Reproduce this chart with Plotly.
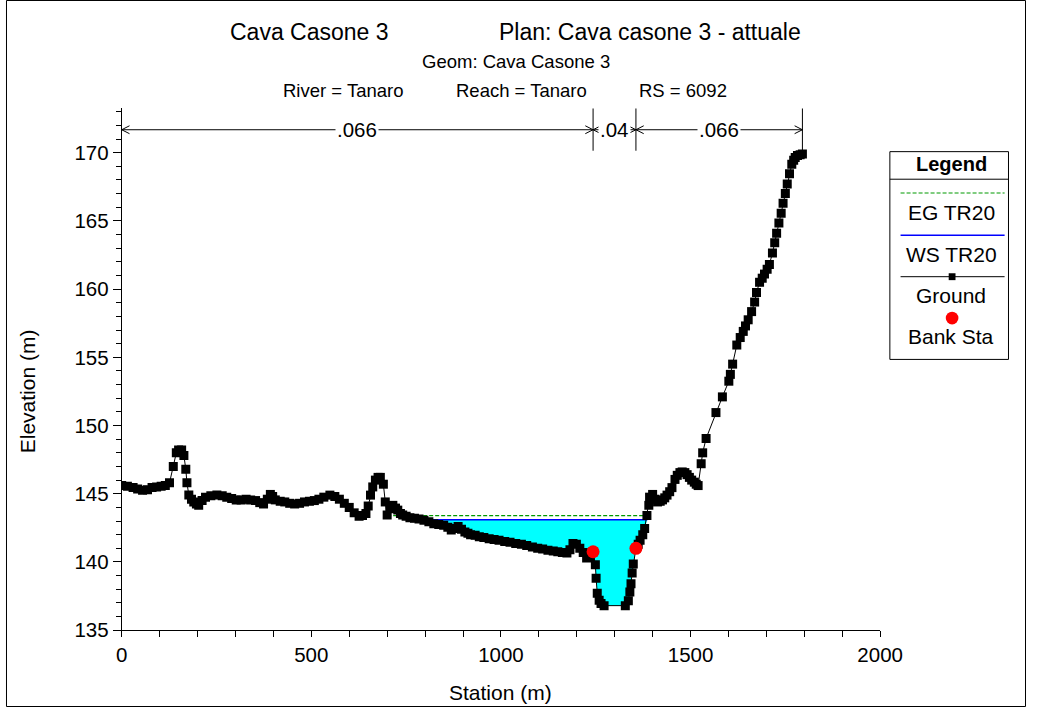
import numpy as np
import plotly.graph_objects as go

W, H = 1049, 718

# Cross-section ground points: station (m) and elevation (m)
station = [
    0, 15, 30, 42, 55, 68, 80, 92, 104, 115, 126, 136, 144, 150, 158, 164, 169, 172, 177, 184,
    190, 197, 203, 212, 221, 235, 251, 265, 277, 290, 302, 315, 328, 340, 353, 364, 374, 384, 392, 398,
    405, 418, 430, 443, 456, 469, 482, 495, 508, 520, 533, 549, 562, 574, 587, 600, 613, 626, 635, 644,
    650, 656, 662, 669, 676, 682, 690, 695, 700, 707, 715, 722, 728, 735, 741, 750, 760, 772, 784, 797,
    810, 823, 836, 849, 860, 869, 878, 887, 896, 905, 913, 920, 932, 943, 955, 969, 982, 995, 1010, 1024,
    1039, 1054, 1068, 1083, 1097, 1110, 1124, 1138, 1150, 1162, 1174, 1182, 1190, 1199, 1208, 1217, 1226, 1235, 1243, 1249,
    1251, 1254, 1259, 1264, 1272, 1328, 1336, 1340, 1343, 1346, 1349, 1356, 1362, 1367, 1374, 1379, 1385, 1390, 1392, 1400,
    1406, 1413, 1420, 1426, 1432, 1438, 1445, 1451, 1459, 1465, 1472, 1478, 1485, 1491, 1497, 1503, 1510, 1515, 1520, 1528,
    1532, 1541, 1567, 1584, 1601, 1605, 1611, 1622, 1631, 1639, 1645, 1652, 1661, 1669, 1674, 1682, 1689, 1695, 1702, 1708,
    1716, 1722, 1727, 1733, 1739, 1744, 1750, 1755, 1761, 1767, 1772, 1776, 1782, 1789, 1795,
]
elevation = [
    145.6, 145.55, 145.45, 145.35, 145.25, 145.3, 145.45, 145.5, 145.55, 145.6, 145.8, 147.0, 148.0, 148.2, 148.2, 147.8, 146.8, 145.8, 144.9, 144.6,
    144.4, 144.25, 144.15, 144.5, 144.75, 144.85, 144.9, 144.85, 144.75, 144.65, 144.55, 144.55, 144.6, 144.55, 144.5, 144.35, 144.25, 144.6, 144.95, 144.8,
    144.55, 144.45, 144.4, 144.3, 144.25, 144.3, 144.4, 144.45, 144.5, 144.6, 144.75, 144.9, 144.8, 144.6, 144.3, 144.0, 143.6, 143.35, 143.4, 143.55,
    144.1, 144.9, 145.5, 146.0, 146.2, 146.2, 145.7, 144.4, 143.45, 143.9, 144.15, 143.95, 143.8, 143.55, 143.45, 143.35, 143.25, 143.2, 143.15, 143.05,
    142.95, 142.8, 142.75, 142.7, 142.55, 142.35, 142.45, 142.6, 142.4, 142.2, 142.1, 142.0, 141.95, 141.85, 141.8, 141.7, 141.65, 141.6, 141.5, 141.45,
    141.35, 141.3, 141.2, 141.1, 141.0, 140.95, 140.85, 140.8, 140.75, 140.7, 140.65, 140.9, 141.35, 141.3, 141.0, 140.7, 140.3, 140.4, 140.75, 139.8,
    138.8, 137.7, 137.2, 136.95, 136.8, 136.8, 137.15, 137.8, 138.4, 139.2, 139.85, 141.0, 141.3, 141.6, 142.0, 142.45, 143.4, 144.15, 144.75, 144.95,
    144.6, 144.4, 144.45, 144.55, 144.7, 144.9, 145.15, 145.45, 146.05, 146.35, 146.55, 146.6, 146.55, 146.4, 146.2, 146.0, 145.85, 145.7, 145.6, 147.2,
    148.0, 149.05, 150.95, 152.1, 153.25, 153.75, 154.5, 155.9, 156.45, 156.9, 157.3, 157.75, 158.35, 159.05, 159.75, 160.5, 160.8, 161.1, 161.45, 161.8,
    162.65, 163.4, 164.1, 164.85, 165.55, 166.3, 167.0, 167.7, 168.45, 169.15, 169.45, 169.65, 169.8, 169.85, 169.9,
]

# Bank stations and Manning's n breaks
bank_sta = [1243, 1356]
n_breaks = [0, 1243, 1356, 1795]
n_values = [0.066, 0.04, 0.066]

# Water surface and energy grade for profile TR20
ws_elev = 143.1
eg_elev = 143.4
ws_extent = [755, 1386]
eg_extent = [700, 1388]

x_range = [0, 2000]
y_range = [135, 173.25]
x_tick_vals = [0, 500, 1000, 1500, 2000]
y_tick_vals = [135, 140, 145, 150, 155, 160, 165, 170]

FONT = "Liberation Sans, Arial, sans-serif"

# plot box in pixels (figure uses zero margins, so paper == whole figure)
PX_L, PX_R, PX_T, PX_B = 119, 899, 110, 640


def px(x):
    return x / W


def py(y):
    return 1 - y / H


sta = np.array(station, dtype=float)
elev = np.array(elevation, dtype=float)

fig = go.Figure()

# water fill between WS and ground
wet = (sta > ws_extent[0]) & (sta < ws_extent[1])
fill_x = [ws_extent[0]] + list(sta[wet]) + [ws_extent[1], ws_extent[0]]
fill_y = [ws_elev] + list(np.minimum(elev[wet], ws_elev)) + [ws_elev, ws_elev]
fig.add_trace(go.Scatter(x=fill_x, y=fill_y, fill="toself", fillcolor="#00FFFF",
                         line=dict(width=0), mode="lines", hoverinfo="skip", showlegend=False))

# energy grade line
fig.add_trace(go.Scatter(x=eg_extent, y=[eg_elev, eg_elev], mode="lines",
                         line=dict(color="#009900", width=1.2, dash="4px,2px"),
                         name="EG TR20", showlegend=False))
# water surface
fig.add_trace(go.Scatter(x=ws_extent, y=[ws_elev, ws_elev], mode="lines",
                         line=dict(color="#0000FF", width=1.5),
                         name="WS TR20", showlegend=False))
# ground
fig.add_trace(go.Scatter(x=station, y=elevation, mode="lines+markers",
                         line=dict(color="black", width=1),
                         marker=dict(symbol="square", size=9, color="black"),
                         name="Ground", showlegend=False))
# bank stations
bank_elev = [elevation[station.index(s)] for s in bank_sta]
fig.add_trace(go.Scatter(x=bank_sta, y=bank_elev, mode="markers",
                         marker=dict(symbol="circle", size=13, color="#FF0000"),
                         name="Bank Sta", showlegend=False))

shapes = []
annotations = []

# Manning's n ranges with arrow markers
y_top = y_range[1]
y_arrow = 171.68
ppm_x = (PX_R - PX_L) / (x_range[1] - x_range[0])
ppm_y = (PX_B - PX_T) / (y_range[1] - y_range[0])
ah_len = 8 / ppm_x
ah_half = 4 / ppm_y
for i, n in enumerate(n_values):
    a, b = n_breaks[i], n_breaks[i + 1]
    shapes.append(dict(type="line", xref="x", yref="y", x0=a, x1=b, y0=y_arrow, y1=y_arrow,
                       line=dict(color="black", width=1)))
    for tip, d in ((a, 1), (b, -1)):
        for s in (1, -1):
            shapes.append(dict(type="line", xref="x", yref="y", x0=tip, y0=y_arrow,
                               x1=tip + d * ah_len, y1=y_arrow + s * ah_half,
                               line=dict(color="black", width=1)))
    label = ("%g" % n).lstrip("0")
    annotations.append(dict(x=(a + b) / 2, y=y_arrow, xref="x", yref="y", text=label,
                            showarrow=False, bgcolor="white", borderpad=1,
                            font=dict(family=FONT, size=20.5, color="black")))

for s in n_breaks[1:-1]:
    shapes.append(dict(type="line", xref="x", yref="y", x0=s, x1=s, y0=y_top, y1=170.14,
                       line=dict(color="black", width=1)))
shapes.append(dict(type="line", xref="x", yref="y", x0=n_breaks[-1], x1=n_breaks[-1],
                   y0=y_top, y1=elevation[-1], line=dict(color="black", width=1)))

# outer frame
shapes.append(dict(type="rect", xref="paper", yref="paper", x0=px(0.5), x1=px(W - 0.5),
                   y0=py(0.5), y1=py(H - 0.5), line=dict(color="black", width=1)))

# legend box
LB_L, LB_R, LB_T, LB_B = 909, 1031, 154, 365
shapes.append(dict(type="rect", xref="paper", yref="paper", x0=px(LB_L), x1=px(LB_R),
                   y0=py(LB_T), y1=py(LB_B), line=dict(color="black", width=1), fillcolor="white"))
shapes.append(dict(type="line", xref="paper", yref="paper", x0=px(LB_L), x1=px(LB_R),
                   y0=py(182), y1=py(182), line=dict(color="black", width=1)))
SYM_L, SYM_R, SYM_C = 920, 1027, 973
shapes.append(dict(type="line", xref="paper", yref="paper", x0=px(SYM_L), x1=px(SYM_R),
                   y0=py(196), y1=py(196), line=dict(color="#009900", width=1.2, dash="4px,2px")))
shapes.append(dict(type="line", xref="paper", yref="paper", x0=px(SYM_L), x1=px(SYM_R),
                   y0=py(239), y1=py(239), line=dict(color="#0000FF", width=1.5)))
shapes.append(dict(type="line", xref="paper", yref="paper", x0=px(SYM_L), x1=px(SYM_R),
                   y0=py(281), y1=py(281), line=dict(color="black", width=1)))
shapes.append(dict(type="rect", xref="paper", yref="paper", x0=px(SYM_C - 3.5), x1=px(SYM_C + 3.5),
                   y0=py(281 - 3.5), y1=py(281 + 3.5), line=dict(width=0), fillcolor="black"))
shapes.append(dict(type="circle", xref="paper", yref="paper", x0=px(SYM_C - 6.5), x1=px(SYM_C + 6.5),
                   y0=py(323 - 6.5), y1=py(323 + 6.5), line=dict(width=0), fillcolor="#FF0000"))

legend_items = [("<b>Legend</b>", 167, 20), ("EG TR20", 216, 21), ("WS TR20", 258, 21),
                ("Ground", 300, 21), ("Bank Sta", 342, 21)]
for txt, yc, fs in legend_items:
    annotations.append(dict(x=px(972), y=py(yc), xref="paper", yref="paper", text=txt,
                            showarrow=False, xanchor="center", yanchor="middle",
                            font=dict(family=FONT, size=fs, color="black")))

# titles
title_rows = [
    ("Cava Casone 3", 312, 32, 23),
    ("Plan: Cava casone 3 - attuale", 662, 32, 23),
    ("Geom: Cava Casone 3", 525, 62, 18.5),
    ("River = Tanaro", 347, 92, 18.5),
    ("Reach = Tanaro", 530, 92, 18.5),
    ("RS = 6092", 696, 92, 18.5),
]
for txt, xc, yc, fs in title_rows:
    annotations.append(dict(x=px(xc), y=py(yc), xref="paper", yref="paper", text=txt,
                            showarrow=False, xanchor="center", yanchor="middle",
                            font=dict(family=FONT, size=fs, color="black")))

# axis titles
annotations.append(dict(x=px(23), y=py(397), xref="paper", yref="paper", text="Elevation (m)",
                        textangle=-90, showarrow=False, xanchor="center", yanchor="middle",
                        font=dict(family=FONT, size=21, color="black")))
annotations.append(dict(x=px(509), y=py(703), xref="paper", yref="paper", text="Station (m)",
                        showarrow=False, xanchor="center", yanchor="middle",
                        font=dict(family=FONT, size=21, color="black")))

fig.update_layout(
    width=W, height=H,
    margin=dict(l=0, r=0, t=0, b=0, pad=0),
    paper_bgcolor="white", plot_bgcolor="white",
    showlegend=False,
    shapes=shapes, annotations=annotations,
    xaxis=dict(domain=[px(PX_L), px(PX_R)], range=x_range, showgrid=False, zeroline=False,
               showline=True, linecolor="black", linewidth=1,
               ticks="outside", ticklen=6, tickcolor="black", tickwidth=1,
               tickvals=x_tick_vals, tickfont=dict(family=FONT, size=20.5, color="black"),
               minor=dict(dtick=100, ticks="outside", ticklen=6, tickcolor="black", showgrid=False)),
    yaxis=dict(domain=[py(PX_B), py(PX_T)], range=y_range, showgrid=False, zeroline=False,
               showline=True, linecolor="black", linewidth=1,
               ticks="outside", ticklen=8, tickcolor="black", tickwidth=1,
               tickvals=y_tick_vals, tickfont=dict(family=FONT, size=20.5, color="black"),
               minor=dict(dtick=1, ticks="outside", ticklen=5, tickcolor="black", showgrid=False)),
)

fig.write_html("out.html")
